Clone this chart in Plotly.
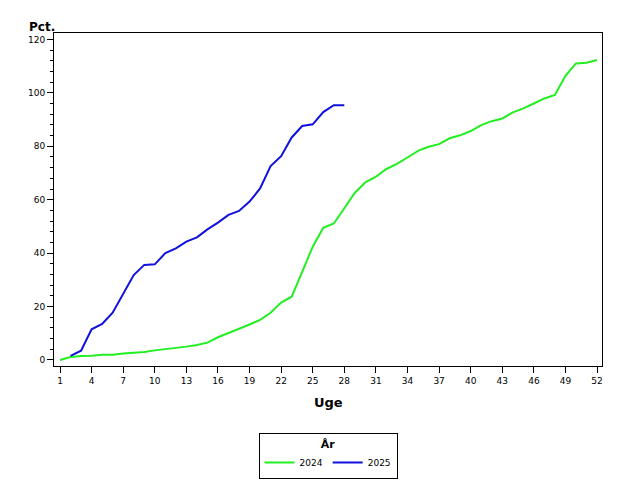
import plotly.graph_objects as go

weeks = list(range(1, 53))

# 2024 - hele året
pct_2024 = [0, 1.1, 1.5, 1.6, 2.0, 2.0, 2.4, 2.7, 3.0, 3.6,
            4.0, 4.5, 5.0, 5.6, 6.5, 8.5, 10.0, 11.5, 13.3, 15.0,
            17.7, 21.5, 23.7, 33.0, 42.4, 49.5, 51.1, 56.8, 62.6, 66.5,
            68.6, 71.5, 73.4, 75.8, 78.3, 79.8, 80.8, 83.0, 84.1, 85.7,
            87.9, 89.4, 90.4, 92.7, 94.2, 96.0, 97.9, 99.2, 106.4, 111.0,
            111.3, 112.3]

# 2025 - uge 2 til 28
weeks_2025 = list(range(2, 29))
pct_2025 = [1.5, 3.5, 11.5, 13.5, 17.7, 25.0, 31.8, 35.6, 35.8, 40.0,
            41.8, 44.3, 45.9, 48.9, 51.4, 54.3, 55.8, 59.3, 64.2, 72.6,
            76.3, 83.3, 87.6, 88.2, 92.8, 95.4, 95.4]

x_ticks = list(range(1, 53, 3))

fig = go.Figure()
fig.add_trace(go.Scatter(x=weeks, y=pct_2024, mode="lines", name="2024",
                         line=dict(color="#22EE22", width=2)))
fig.add_trace(go.Scatter(x=weeks_2025, y=pct_2025, mode="lines", name="2025",
                         line=dict(color="#1111DD", width=2)))

# siden har 8px body-margin, derfor er margins trukket 8px ind
fig.update_layout(
    width=640, height=480,
    paper_bgcolor="white", plot_bgcolor="white",
    margin=dict(l=46, r=46, t=25, b=122),
    font=dict(family="DejaVu Sans", size=9, color="black"),
    showlegend=True,
    legend=dict(
        orientation="h", x=0.5, xanchor="center",
        yref="container", y=0.115, yanchor="top",
        bordercolor="black", borderwidth=1, itemwidth=30,
        title=dict(text="<b>År</b>", side="top center", font=dict(size=11)),
        font=dict(size=9),
    ),
    xaxis=dict(
        range=[0.43, 52.47], tickmode="array", tickvals=x_ticks,
        ticks="outside", ticklen=6, tickcolor="black",
        showgrid=False, zeroline=False, showline=True, linecolor="black",
        mirror=True, linewidth=1,
    ),
    yaxis=dict(
        range=[-2.25, 122.4], tickmode="linear", tick0=0, dtick=20,
        ticks="outside", ticklen=6, tickcolor="black",
        minor=dict(dtick=4, ticks="outside", ticklen=3, tickcolor="black"),
        showgrid=False, zeroline=False, showline=True, linecolor="black",
        mirror=True, linewidth=1,
    ),
    annotations=[
        dict(text="<b>Pct.</b>", xref="paper", yref="paper", x=-0.022, y=1.018,
             xanchor="center", yanchor="middle", showarrow=False,
             font=dict(size=12)),
        dict(text="<b>Uge</b>", xref="paper", yref="paper", x=0.5, y=-0.111,
             xanchor="center", yanchor="middle", showarrow=False,
             font=dict(size=13)),
    ],
)

fig.write_html("out.html")
